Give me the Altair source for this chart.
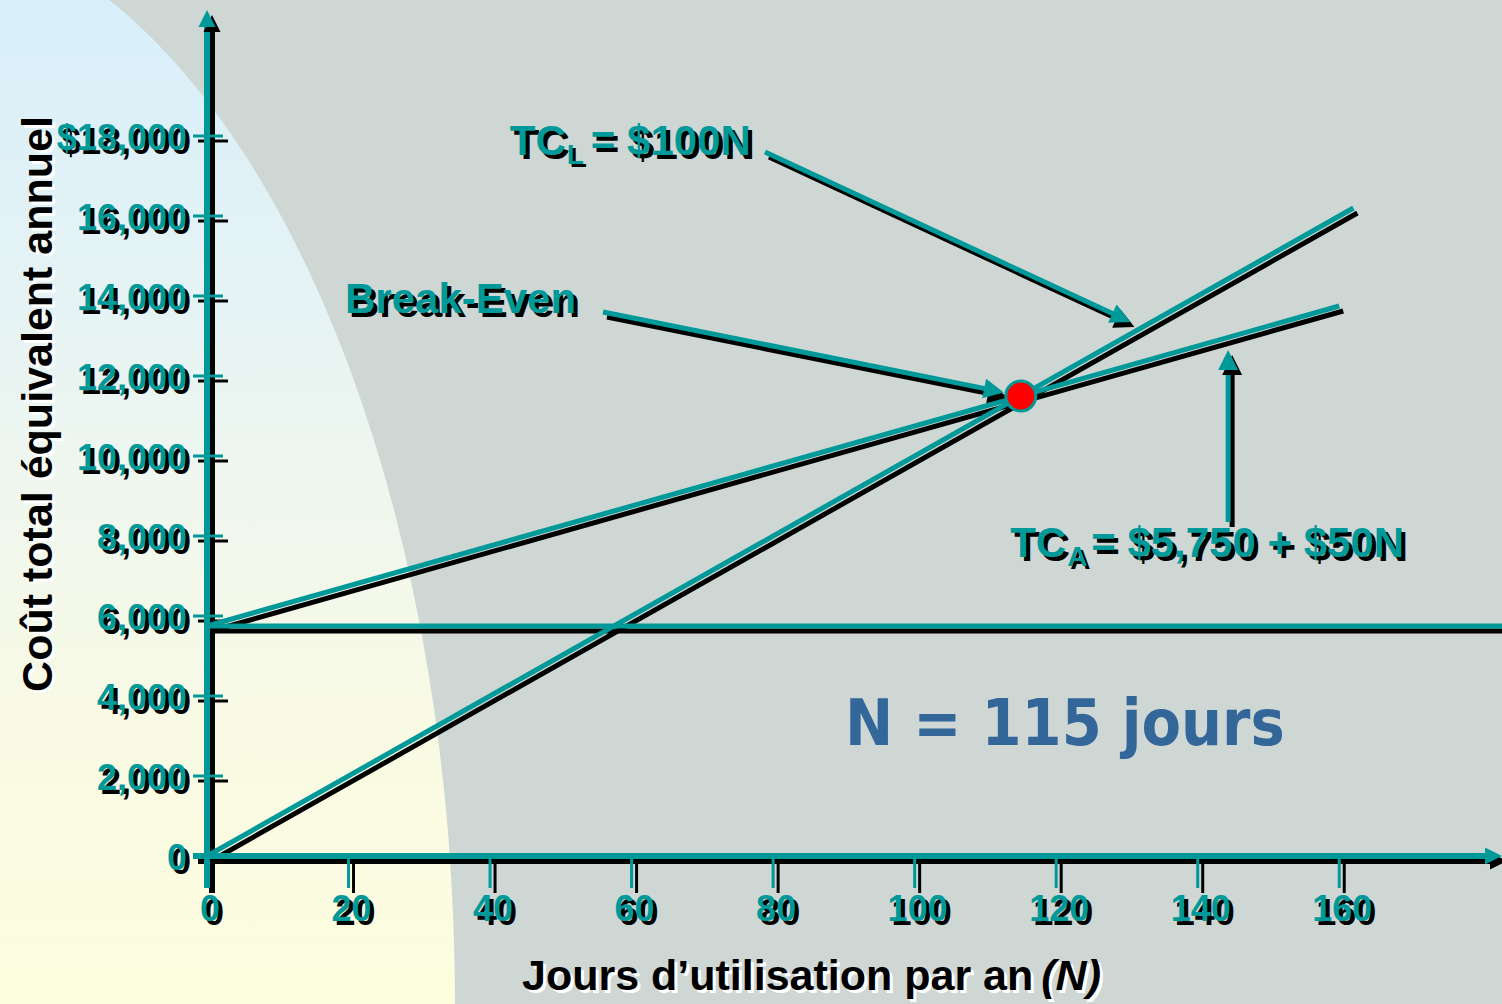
import math
import altair as alt
import pandas as pd

# ---------------------------------------------------------------- data
N_TICKS = [0, 20, 40, 60, 80, 100, 120, 140, 160]
N_LABELS = ["0", "20", "40", "60", "80", "100", "120", "140", "160"]
COST_TICKS = [0, 2000, 4000, 6000, 8000, 10000, 12000, 14000, 16000, 18000]
COST_LABELS = ["0", "2,000", "4,000", "6,000", "8,000", "10,000",
               "12,000", "14,000", "16,000", "$18,000"]

# total cost lines: days of use per year -> equivalent annual cost
TCL_N = [0, 162]
TCL_COST = [0, 16200]          # TC_L = $100 N
TCA_N = [0, 160]
TCA_COST = [5750, 13750]       # TC_A = $5,750 + $50 N
FIXED_COST = 5750
BREAK_EVEN_N = 115
BREAK_EVEN_COST = 11500

# annotation arrows (label -> tip), in days / dollars
ARROW_FROM_N = [78.85, 55.96, 144.3]
ARROW_FROM_COST = [17600, 13600, 8350]
ARROW_TO_N = [130.5, 112.6, 144.3]
ARROW_TO_COST = [13350, 11590, 12650]

# ---------------------------------------------------------------- layout
W, H = 1295, 846
N_MAX, COST_MAX = 183, 21150
PAD_L, PAD_T = 207, 10
PX_N = W / N_MAX
PX_C = H / COST_MAX

TEAL = "#009999"
BLACK = "#000000"
GREY = "#CED7D4"
FONT = "Liberation Sans"

XS = alt.Scale(domain=[0, N_MAX], nice=False, zero=False)
YS = alt.Scale(domain=[0, COST_MAX], nice=False, zero=False)


def X(f):
    return alt.X(f"{f}:Q", scale=XS, axis=None)


def Y(f):
    return alt.Y(f"{f}:Q", scale=YS, axis=None)


def px_angle(n1, c1, n2, c2):
    return math.degrees(math.atan2(-(c2 - c1) * PX_C, (n2 - n1) * PX_N)) % 360


def shorten(n1, c1, n2, c2, px):
    dx, dy = (n2 - n1) * PX_N, (c2 - c1) * PX_C
    t = (math.hypot(dx, dy) - px) / math.hypot(dx, dy)
    return n1 + (n2 - n1) * t, c1 + (c2 - c1) * t


HEAD = "M0,0L-2,-1L-2,1Z"
AX_HEAD, AR_HEAD = 17, 20

# ---------------------------------------------------------------- background
ELL_RX = 555 / 1084
ell_pts = [(ELL_RX * math.cos(2 * math.pi * i / 160), math.sin(2 * math.pi * i / 160))
           for i in range(160)]
ELLIPSE = "M" + "L".join(f"{x:.4f},{y:.4f}" for x, y in ell_pts) + "Z"

light = alt.LinearGradient(
    gradient="linear", x1=0, y1=0, x2=0, y2=1,
    stops=[alt.GradientStop(color="#D6EEFC", offset=0.0),
           alt.GradientStop(color="#D8EFFA", offset=0.04),
           alt.GradientStop(color="#E6F3F4", offset=0.18),
           alt.GradientStop(color="#F0F7EE", offset=0.27),
           alt.GradientStop(color="#F9FAE3", offset=0.38),
           alt.GradientStop(color="#FDFDDF", offset=0.5),
           alt.GradientStop(color="#FDFDDF", offset=1.0)])

one = pd.DataFrame({"k": [0]})
bg = alt.Chart(one).mark_point(
    shape=ELLIPSE, size=(2 * 1084) ** 2, filled=True, fill=light,
    opacity=1, strokeWidth=0
).encode(x=alt.value(-100 - PAD_L), y=alt.value(1004 - PAD_T))

# ---------------------------------------------------------------- segments
seg_rows = [
    (TCL_N[0], TCL_COST[0], TCL_N[1], TCL_COST[1]),
    (TCA_N[0], TCA_COST[0], TCA_N[1], TCA_COST[1]),
    (0, FIXED_COST, N_MAX, FIXED_COST),
]
head_rows = []
for a in range(len(ARROW_FROM_N)):
    n1, c1, n2, c2 = ARROW_FROM_N[a], ARROW_FROM_COST[a], ARROW_TO_N[a], ARROW_TO_COST[a]
    en, ec = shorten(n1, c1, n2, c2, AR_HEAD * 0.7)
    seg_rows.append((n1, c1, en, ec))
    head_rows.append((n2, c2, px_angle(n1, c1, n2, c2)))
segs = pd.DataFrame(seg_rows, columns=["n", "c", "n2", "c2"])
heads = pd.DataFrame(head_rows, columns=["n", "c", "ang"])


def seg_layer(color, ox, oy):
    return alt.Chart(segs).mark_rule(
        color=color, strokeWidth=5, xOffset=ox, x2Offset=ox, yOffset=oy, y2Offset=oy
    ).encode(x=X("n"), y=Y("c"), x2="n2:Q", y2="c2:Q")


def head_layer(df, color, size, ox, oy):
    return alt.Chart(df).mark_point(
        shape=HEAD, size=size, filled=True, opacity=1, strokeWidth=0,
        color=color, xOffset=ox, yOffset=oy
    ).encode(x=X("n"), y=Y("c"), angle=alt.Angle("ang:Q", scale=None))


# ---------------------------------------------------------------- axes
axis_df = pd.DataFrame({"n": [0], "c": [0], "n2": [N_MAX], "c2": [COST_MAX]})
ax_heads = pd.DataFrame({"n": [0, N_MAX], "c": [COST_MAX, 0], "ang": [270, 0]})
yt = pd.DataFrame({"n": 0, "c": COST_TICKS, "t": COST_LABELS})
xt = pd.DataFrame({"n": N_TICKS[1:], "c": 0})
xl = pd.DataFrame({"n": N_TICKS, "c": 0, "t": N_LABELS})


def axis_layers(color, ox, oy):
    yaxis = alt.Chart(axis_df).mark_rule(
        color=color, strokeWidth=6, xOffset=ox, yOffset=32 + oy,
        y2Offset=AX_HEAD * 0.7 + oy
    ).encode(x=X("n"), y=Y("c"), y2="c2:Q")
    xaxis = alt.Chart(axis_df).mark_rule(
        color=color, strokeWidth=6, yOffset=oy, xOffset=-14 + ox,
        x2Offset=-AX_HEAD * 0.7 + ox
    ).encode(x=X("n"), x2="n2:Q", y=Y("c"))
    yticks = alt.Chart(yt).mark_rule(
        color=color, strokeWidth=3, xOffset=-14 + ox, x2Offset=16 + ox, yOffset=oy
    ).encode(x=X("n"), x2="n:Q", y=Y("c"))
    xticks = alt.Chart(xt).mark_rule(
        color=color, strokeWidth=3, xOffset=ox, yOffset=oy, y2Offset=32 + oy
    ).encode(x=X("n"), y=Y("c"), y2="c:Q")
    return [yaxis, xaxis, yticks, xticks]


# ---------------------------------------------------------------- text helpers
def text_at(df, color, size, dx, dy, align="left", baseline="alphabetic",
            font=FONT, style="normal"):
    return alt.Chart(df).mark_text(
        color=color, font=font, fontSize=size, fontWeight="bold", fontStyle=style,
        align=align, baseline=baseline, dx=dx, dy=dy
    ).encode(x=X("n"), y=Y("c"), text="t:N")


def shadowed(df, size, dx, dy, align="left", baseline="alphabetic", sh=4):
    return [text_at(df, BLACK, size, dx + sh, dy + sh, align, baseline),
            text_at(df, TEAL, size, dx, dy, align, baseline)]


def single(t, n, c):
    return pd.DataFrame({"t": [t], "n": [n], "c": [c]})


def equation(main, sub, rest, n, c):
    out = []
    out += shadowed(single(main, n, c), 42, 0, 0)
    out += shadowed(single(sub, n, c), 28, 57, 9, sh=3)
    out += shadowed(single(rest, n, c), 42, 81, 0)
    return out


def pixel_text(t, x, y, color, size, align="left", angle=0, style="normal"):
    props = dict(color=color, font=FONT, fontSize=size, fontWeight="bold",
                 fontStyle=style, align=align, baseline="alphabetic")
    if angle:
        props["angle"] = angle
    return alt.Chart(single(t, 0, 0)).mark_text(**props).encode(
        x=alt.value(x - PAD_L), y=alt.value(y - PAD_T), text="t:N")


def title(t, x, y, size, align="left", angle=0, style="normal"):
    return [pixel_text(t, x + 3, y + 3, "#FFFFFF", size, align, angle, style),
            pixel_text(t, x, y, BLACK, size, align, angle, style)]


# ---------------------------------------------------------------- assemble
layers = [bg]
layers += axis_layers(BLACK, 5, 5)
layers.append(seg_layer(BLACK, 4, 5))
layers += axis_layers(TEAL, 0, 0)
layers.append(seg_layer(TEAL, 0, 0))
layers.append(head_layer(ax_heads, BLACK, AX_HEAD ** 2, 5, 5))
layers.append(head_layer(heads, BLACK, AR_HEAD ** 2, 4, 5))
layers.append(head_layer(ax_heads, TEAL, AX_HEAD ** 2, 0, 0))
layers.append(head_layer(heads, TEAL, AR_HEAD ** 2, 0, 0))

dot = alt.Chart(single("", BREAK_EVEN_N, BREAK_EVEN_COST)).mark_circle(
    size=900, color="#FF0000", stroke=TEAL, strokeWidth=3, opacity=1
).encode(x=X("n"), y=Y("c"))
layers.append(dot)

# tick labels
layers += shadowed(yt, 36, -20, 14, align="right")
layers += shadowed(xl, 36, 3, 65, align="center")

# annotations
layers += equation("TC", "L", "= $100N", 42.8, 17525)
layers += shadowed(single("Break-Even", 19.5, 13575), 42, 0, 0)
layers += equation("TC", "A", "= $5,750 + $50N", 113.5, 7475)
layers.append(text_at(single(f"N = {BREAK_EVEN_N} jours", 90.16, 2775),
                      "#336699", 64, 0, 0, font="DejaVu Sans Condensed"))

# axis titles
layers += title("Jours d\u2019utilisation par an", 522, 990, 43)
layers += title("(N)", 1101, 990, 43, align="right", style="italic")
layers += title("Co\u00fbt total \u00e9quivalent annuel", 52, 404, 43,
                align="center", angle=270)

chart = alt.layer(*layers).properties(
    width=W, height=H,
    padding={"left": PAD_L, "top": PAD_T, "right": 1502 - PAD_L - W,
             "bottom": 1004 - PAD_T - H},
    autosize=alt.AutoSizeParams(type="none"),
    background=GREY,
).configure_view(stroke=None)

chart.save("out.html", embed_options={"renderer": "svg", "actions": False})
